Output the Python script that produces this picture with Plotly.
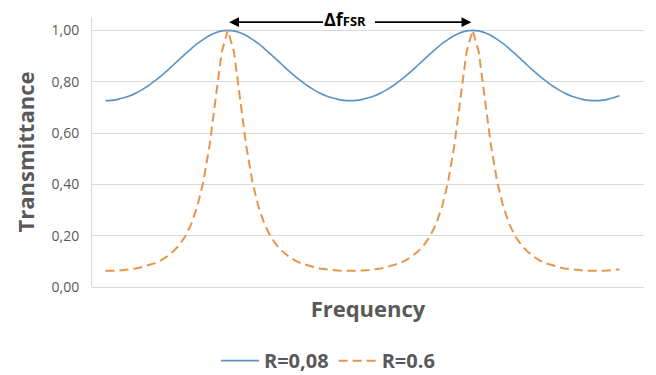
import plotly.graph_objects as go

# Frequency positions (arbitrary units, peaks at 10 and 30)
freq = [i * 0.5 for i in range(85)]

# Values, per half-unit of distance from a peak (0 .. 10)
blue_profile = [1.000, 0.998, 0.991, 0.980, 0.965, 0.948, 0.928, 0.907, 0.885, 0.863, 0.841,
                0.821, 0.802, 0.784, 0.769, 0.756, 0.745, 0.737, 0.731, 0.727, 0.726]
orange_profile = [1.000, 0.916, 0.732, 0.550, 0.411, 0.313, 0.244, 0.196, 0.162, 0.137, 0.118,
                  0.103, 0.092, 0.084, 0.078, 0.072, 0.069, 0.066, 0.064, 0.063, 0.063]

def unfold(p):
    return (p[::-1] + p[1:] + p[::-1][1:] + p[1:] + [p[19], p[18], p[17], p[16]])

t_r008 = unfold(blue_profile)
t_r06 = unfold(orange_profile)

y_ticks = [0.0, 0.2, 0.4, 0.6, 0.8, 1.0]
y_tick_labels = ["0,00", "0,20", "0,40", "0,60", "0,80", "1,00"]

gray = "#595959"
F = "Open Sans"
fig = go.Figure()
fig.add_trace(go.Scatter(x=freq, y=t_r008, mode="lines", name="R=0,08",
                         line=dict(color="#5B93C4", width=1.6, shape="spline", smoothing=0.8)))
fig.add_trace(go.Scatter(x=freq, y=t_r06, mode="lines", name="R=0.6",
                         line=dict(color="#E8944A", width=2, dash="9px,5px")))

ya = 1.032
fig.add_annotation(x=10.1, y=ya, ax=17.9, ay=ya, xref="x", yref="y", axref="x", ayref="y",
                   text="", showarrow=True, arrowhead=2, arrowsize=1.1, arrowwidth=1.8, arrowcolor="black")
fig.add_annotation(x=29.9, y=ya, ax=21.9, ay=ya, xref="x", yref="y", axref="x", ayref="y",
                   text="", showarrow=True, arrowhead=2, arrowsize=1.1, arrowwidth=1.8, arrowcolor="black")
fig.add_annotation(x=19.6, y=ya, xref="x", yref="y", showarrow=False,
                   text="<b>Δf<span style='font-size:13px'>FSR</span></b>",
                   font=dict(family=F, size=18, color="black"), yshift=3)

fig.update_layout(
    width=656, height=375,
    margin=dict(l=92, r=12, t=17, b=88, autoexpand=False),
    paper_bgcolor="white", plot_bgcolor="white",
    font=dict(family=F, color=gray),
    showlegend=True,
    legend=dict(orientation="h", x=0.4275, xanchor="center", y=-0.345, yanchor="bottom",
                font=dict(family=F, size=20, color=gray, weight="bold"), itemwidth=38),
    xaxis=dict(range=[-1.1, 44.0], showticklabels=False, showgrid=False, zeroline=False,
               showline=False, ticks="",
               title=dict(text="Frequency", font=dict(family=F, size=22, color=gray, weight="bold"),
                          standoff=14)),
    yaxis=dict(range=[0, 1.052], tickvals=y_ticks, ticktext=y_tick_labels,
               tickfont=dict(family=F, size=14, color=gray), showgrid=True, gridcolor="#D9D9D9", gridwidth=1,
               zeroline=True, zerolinecolor="#D9D9D9", zerolinewidth=1,
               showline=True, linecolor="#D9D9D9", linewidth=1, ticks="", ticklabelstandoff=9,
               title=dict(text="Transmittance", font=dict(family=F, size=22, color=gray, weight="bold"),
                          standoff=10)),
)

fig.write_html("out.html", config={"displayModeBar": False},
               post_script="document.body.style.margin='0px';")
